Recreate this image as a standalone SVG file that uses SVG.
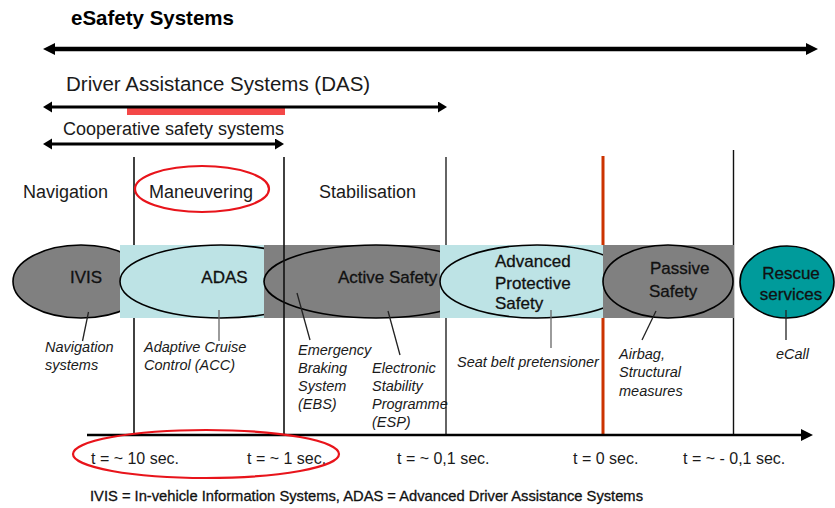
<svg xmlns="http://www.w3.org/2000/svg" width="835" height="508" viewBox="0 0 835 508">
  <style>
    text { font-family: "Liberation Sans", Arial, sans-serif; fill: #1a1a1a; }
    .title { font-size: 20.5px; font-weight: bold; fill: #000; }
    .span { font-size: 20.5px; }
    .coop { font-size: 18px; }
    .phase { font-size: 18px; }
    .node-label { font-size: 17px; fill: #111; stroke: #111; stroke-width: 0.3; }
    .note { font-size: 14.5px; font-style: italic; }
    .time { font-size: 16px; }
    .footer { font-size: 15px; fill: #111; stroke: #111; stroke-width: 0.3; }
    .sep { stroke: #111; stroke-width: 1.6; fill: none; }
    .band-grey { fill: #808080; }
    .band-blue { fill: #BDE3E5; }
    .bubble { stroke: #000; stroke-width: 1.6; }
    .callout { stroke: #222; stroke-width: 1.3; fill: none; }
    .callout-light { stroke: #666; stroke-width: 1.3; fill: none; }
    .ring { fill: none; stroke: #E8141B; stroke-width: 2.2; }
  </style>
  <defs>
    <marker id="head-lg" markerUnits="userSpaceOnUse" markerWidth="13" markerHeight="13" refX="5" refY="6.5" orient="auto-start-reverse">
      <path d="M0,0.5 L12,6.5 L0,12.5 z" fill="#000"/>
    </marker>
    <marker id="head-md" markerUnits="userSpaceOnUse" markerWidth="11" markerHeight="12" refX="4" refY="5.5" orient="auto-start-reverse">
      <path d="M0,0 L9,5.5 L0,11 z" fill="#000"/>
    </marker>
  </defs>

  <rect width="835" height="508" fill="#fff"/>

  <!-- scope spans -->
  <g id="spans">
    <text class="title" x="71" y="25">eSafety Systems</text>
    <line x1="50" y1="49" x2="811" y2="49" stroke="#000" stroke-width="4.5" marker-start="url(#head-lg)" marker-end="url(#head-lg)"/>

    <text class="span" x="66" y="91">Driver Assistance Systems (DAS)</text>
    <rect x="127" y="106" width="158" height="9" fill="#F44848"/>
    <line x1="48" y1="107" x2="442" y2="107" stroke="#000" stroke-width="2.8" marker-start="url(#head-md)" marker-end="url(#head-md)"/>

    <text class="coop" x="63" y="135">Cooperative safety systems</text>
    <line x1="48" y1="144" x2="279" y2="144" stroke="#000" stroke-width="3" marker-start="url(#head-md)" marker-end="url(#head-md)"/>
  </g>

  <!-- phase separators -->
  <g id="separators">
    <line class="sep" x1="134" y1="157" x2="134" y2="435"/>
    <line class="sep" x1="284" y1="157" x2="284" y2="435"/>
    <line class="sep" x1="446" y1="157" x2="446" y2="435" style="stroke-width:1.3"/>
    <line x1="603" y1="156" x2="603" y2="436" stroke="#CC3300" stroke-width="3"/>
    <line class="sep" x1="733.5" y1="150" x2="733.5" y2="435" style="stroke-width:1.4"/>
  </g>

  <!-- phase labels -->
  <g id="phases">
    <text class="phase" x="23" y="198">Navigation</text>
    <text class="phase" x="149" y="198">Maneuvering</text>
    <ellipse class="ring" cx="202" cy="189" rx="67" ry="23"/>
    <text class="phase" x="319" y="198">Stabilisation</text>
  </g>

  <!-- system nodes along the band -->
  <g id="ivis">
    <ellipse class="bubble" cx="81" cy="281.5" rx="68" ry="36.5" fill="#808080"/>
    <text class="node-label" x="86" y="283" text-anchor="middle">IVIS</text>
  </g>

  <g id="adas">
    <rect class="band-blue" x="120" y="245" width="144" height="73"/>
    <ellipse class="bubble" cx="221" cy="281.5" rx="101" ry="36.5" fill="#BDE3E5"/>
  </g>

  <g id="active-safety">
    <rect class="band-grey" x="264" y="245" width="176" height="73"/>
    <ellipse class="bubble" cx="376" cy="281.5" rx="112" ry="36.5" fill="#808080"/>
  </g>

  <g id="advanced-protective-safety">
    <rect class="band-blue" x="440" y="245" width="163" height="73"/>
    <ellipse class="bubble" cx="537" cy="281.5" rx="97" ry="36.5" fill="#BDE3E5"/>
  </g>

  <g id="passive-safety">
    <rect class="band-grey" x="603" y="245" width="131" height="73"/>
    <ellipse class="bubble" cx="668" cy="281.5" rx="65" ry="36.5" fill="#808080"/>
    <text class="node-label" x="650" y="274">Passive</text>
    <text class="node-label" x="649" y="297">Safety</text>
  </g>

  <g id="rescue-services">
    <ellipse class="bubble" cx="787" cy="282" rx="47" ry="36" fill="#009B9B"/>
    <text class="node-label" x="791" y="279" text-anchor="middle">Rescue</text>
    <text class="node-label" x="791" y="300" text-anchor="middle">services</text>
  </g>

  <!-- labels drawn over the band edges -->
  <g id="band-labels">
    <line class="sep" x1="284" y1="245" x2="284" y2="318"/>
    <text class="node-label" x="224.5" y="283" text-anchor="middle">ADAS</text>
    <text class="node-label" x="338" y="283">Active Safety</text>
    <text class="node-label" x="495" y="267">Advanced</text>
    <text class="node-label" x="495" y="289">Protective</text>
    <text class="node-label" x="495" y="309">Safety</text>
  </g>

  <!-- callout leaders -->
  <g id="connectors">
    <line class="callout" x1="88.5" y1="312" x2="82.5" y2="341"/>
    <line class="callout-light" x1="219" y1="310" x2="219" y2="341"/>
    <line class="callout" x1="297" y1="293" x2="310" y2="340"/>
    <line class="callout" x1="388" y1="311" x2="400" y2="355"/>
    <line class="callout-light" x1="551" y1="310" x2="551" y2="348"/>
    <line class="callout" x1="656" y1="311" x2="642" y2="340"/>
    <line class="callout" x1="786" y1="310" x2="786" y2="340"/>
  </g>

  <!-- example systems -->
  <g id="examples">
    <text class="note" x="45" y="352">Navigation</text>
    <text class="note" x="45" y="370">systems</text>
    <text class="note" x="144" y="352">Adaptive Cruise</text>
    <text class="note" x="144" y="370">Control (ACC)</text>
    <text class="note" x="298" y="355">Emergency</text>
    <text class="note" x="298" y="373">Braking</text>
    <text class="note" x="298" y="391">System</text>
    <text class="note" x="298" y="409">(EBS)</text>
    <text class="note" x="372" y="373">Electronic</text>
    <text class="note" x="372" y="391">Stability</text>
    <text class="note" x="372" y="409">Programme</text>
    <text class="note" x="372" y="427">(ESP)</text>
    <text class="note" x="457" y="367">Seat belt pretensioner</text>
    <text class="note" x="619" y="359">Airbag,</text>
    <text class="note" x="619" y="377">Structural</text>
    <text class="note" x="619" y="396">measures</text>
    <text class="note" x="776" y="359">eCall</text>
  </g>

  <!-- time axis -->
  <g id="time-axis">
    <line x1="87" y1="435" x2="806" y2="435" stroke="#000" stroke-width="2.6" marker-end="url(#head-lg)"/>
    <text class="time" x="91" y="464">t = ~ 10 sec.</text>
    <text class="time" x="247" y="464">t = ~ 1 sec.</text>
    <ellipse class="ring" cx="206" cy="454" rx="133" ry="24"/>
    <text class="time" x="397" y="464">t = ~ 0,1 sec.</text>
    <text class="time" x="573" y="464">t = 0 sec.</text>
    <text class="time" x="683" y="464">t = ~ - 0,1 sec.</text>
  </g>

  <text class="footer" x="90" y="501" textLength="553" lengthAdjust="spacingAndGlyphs">IVIS = In-vehicle Information Systems, ADAS = Advanced Driver Assistance Systems</text>
</svg>
